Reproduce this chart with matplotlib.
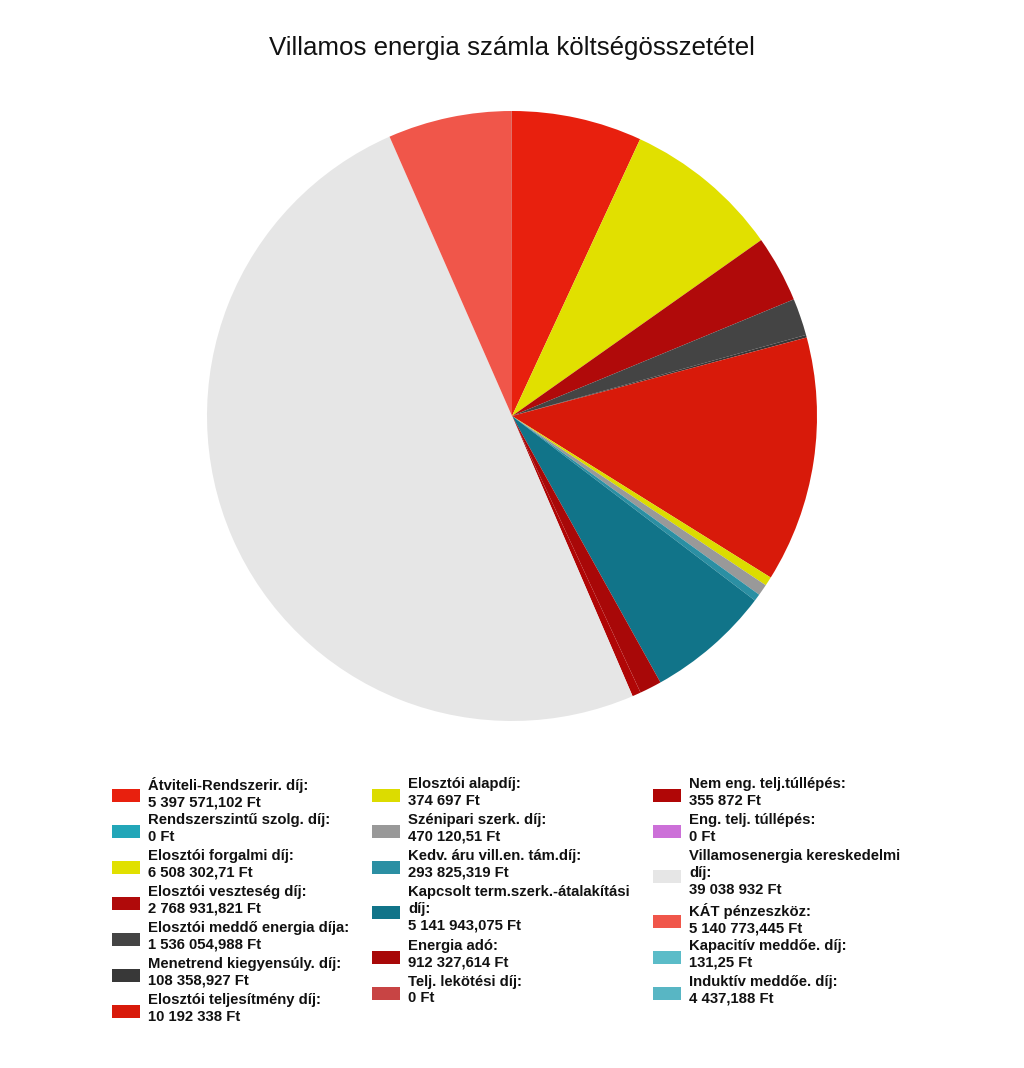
import matplotlib
matplotlib.use("Agg")
import matplotlib.pyplot as plt
from matplotlib.patches import Rectangle

plt.rcParams['font.family'] = ['Liberation Sans', 'DejaVu Sans']

title = "Villamos energia számla költségösszetétel"

categories = [
    "Átviteli-Rendszerir. díj:",
    "Rendszerszintű szolg. díj:",
    "Elosztói forgalmi díj:",
    "Elosztói veszteség díj:",
    "Elosztói meddő energia díja:",
    "Menetrend kiegyensúly. díj:",
    "Elosztói teljesítmény díj:",
    "Elosztói alapdíj:",
    "Szénipari szerk. díj:",
    "Kedv. áru vill.en. tám.díj:",
    "Kapcsolt term.szerk.-átalakítási\ndíj:",
    "Energia adó:",
    "Telj. lekötési díj:",
    "Nem eng. telj.túllépés:",
    "Eng. telj. túllépés:",
    "Villamosenergia kereskedelmi\ndíj:",
    "KÁT pénzeszköz:",
    "Kapacitív meddőe. díj:",
    "Induktív meddőe. díj:",
]

values = [
    5397571.102, 0, 6508302.71, 2768931.821, 1536054.988, 108358.927,
    10192338, 374697, 470120.51, 293825.319, 5141943.075, 912327.614,
    0, 355872, 0, 39038932, 5140773.445, 131.25, 4437.188,
]

value_labels = [
    "5 397 571,102 Ft", "0 Ft", "6 508 302,71 Ft", "2 768 931,821 Ft",
    "1 536 054,988 Ft", "108 358,927 Ft", "10 192 338 Ft", "374 697 Ft",
    "470 120,51 Ft", "293 825,319 Ft", "5 141 943,075 Ft", "912 327,614 Ft",
    "0 Ft", "355 872 Ft", "0 Ft", "39 038 932 Ft", "5 140 773,445 Ft",
    "131,25 Ft", "4 437,188 Ft",
]

colors = [
    "#e8200e", "#22a6b8", "#e1e000", "#b00a0a", "#444444", "#383838",
    "#d81a0a", "#dcdc00", "#999999", "#2b8fa3", "#117489", "#a80808",
    "#c84444", "#b00606", "#cc70d8", "#e6e6e6", "#f0564a", "#5bbcc8",
    "#58b6c4",
]

W, H = 1024, 1068
fig = plt.figure(figsize=(W / 100, H / 100), dpi=100)

cx, cy, r = 512, 416, 305
ax = fig.add_axes([(cx - r) / W, (H - cy - r) / H, 2 * r / W, 2 * r / H])
ax.pie(values, colors=colors, startangle=90, counterclock=False,
       radius=1, wedgeprops=dict(linewidth=0))
ax.set_xlim(-1, 1)
ax.set_ylim(-1, 1)
ax.set_aspect('equal')
ax.axis('off')

fig.text(0.5, 1 - 48 / H, title, ha='center', va='center', fontsize=18.6,
         color='#111111')

# legend: 3 columns (7, 6, 6 items)
col_sizes = [7, 6, 6]
col_patch_x = [112, 372, 653]
line_h = 17.6
start_y = 777
idx = 0
for c, n in enumerate(col_sizes):
    y = start_y
    for k in range(n):
        i = idx + k
        text = categories[i] + "\n" + value_labels[i]
        nlines = text.count("\n") + 1
        item_h = nlines * line_h
        center = y + item_h / 2 + 1
        ph = 13
        fig.patches.append(Rectangle(((col_patch_x[c]) / W, 1 - (center + ph / 2) / H),
                                     28 / W, ph / H, transform=fig.transFigure,
                                     facecolor=colors[i], edgecolor='none'))
        fig.text((col_patch_x[c] + 36) / W, 1 - y / H, text, ha='left', va='top',
                 fontsize=10.7, fontweight='bold', color='#111111',
                 linespacing=1.26)
        y += item_h + 0.8
    idx += n

fig.savefig("out.png", dpi=100, facecolor='white')
